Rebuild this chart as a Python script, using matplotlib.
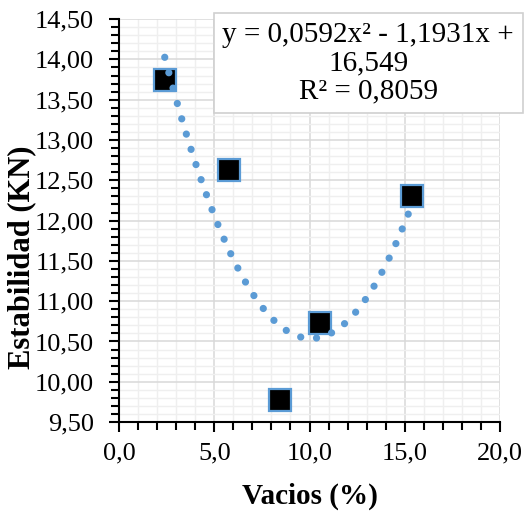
import matplotlib.pyplot as plt
import numpy as np
from matplotlib.ticker import MultipleLocator, FuncFormatter

# Measured points
vacios = [2.4, 5.75, 8.45, 10.55, 15.4]
estabilidad = [13.74, 12.63, 9.78, 10.73, 12.30]

# Trendline coefficients as shown in the label
coef = [0.0592, -1.1931, 16.549]
eq_text = 'y = 0,0592x² - 1,1931x +\n16,549\nR² = 0,8059'

plt.rcParams['font.family'] = ['Liberation Serif', 'DejaVu Serif']

fig = plt.figure(figsize=(5.28, 5.16), dpi=100)
ax = fig.add_axes([0.2254, 0.182, 0.7216, 0.781])

blue = '#5b9bd5'
ax.plot(vacios, estabilidad, linestyle='none', marker='s', ms=15.5,
        mfc='black', mec=blue, mew=1.6, zorder=3)

xs = np.linspace(min(vacios), max(vacios), 300)
ax.plot(xs, np.polyval(coef, xs), color=blue, lw=5.2,
        linestyle=(0, (0.01, 2.2)), dash_capstyle='round', zorder=4)

ax.set_xlim(0, 20)
ax.set_ylim(9.5, 14.5)
ax.xaxis.set_major_locator(MultipleLocator(5))
ax.xaxis.set_minor_locator(MultipleLocator(1))
ax.yaxis.set_major_locator(MultipleLocator(0.5))
ax.yaxis.set_minor_locator(MultipleLocator(0.1))
ax.xaxis.set_major_formatter(FuncFormatter(lambda v, p: f'{v:.1f}'.replace('.', ',')))
ax.yaxis.set_major_formatter(FuncFormatter(lambda v, p: f'{v:.2f}'.replace('.', ',')))

ax.grid(which='major', color='#d9d9d9', lw=1.1, zorder=0)
ax.grid(which='minor', color='#efefef', lw=1.0, zorder=0)
ax.set_axisbelow(True)

for s in ['top', 'right']:
    ax.spines[s].set_visible(False)
for s in ['left', 'bottom']:
    ax.spines[s].set_color('black')
    ax.spines[s].set_linewidth(1.5)

ax.tick_params(which='both', direction='out', width=1.5, labelsize=19, color='black')
ax.tick_params(which='major', length=7)
ax.tick_params(which='minor', length=6)
ax.tick_params(axis='y', pad=11)
ax.tick_params(axis='x', pad=8)

ax.set_xlabel('Vacios (%)', fontsize=21, fontweight='bold', labelpad=13)
ax.set_ylabel('Estabilidad (KN)', fontsize=22, fontweight='bold')
ax.yaxis.set_label_coords(-0.218, 0.41)

ax.text(0.654, 0.891, eq_text, transform=ax.transAxes, ha='center', va='center',
        fontsize=21, linespacing=1.1, zorder=6,
        bbox=dict(boxstyle='square,pad=0.3', fc='white', ec='#d0d0d0', lw=1.2))

fig.savefig('out.png', dpi=100)
